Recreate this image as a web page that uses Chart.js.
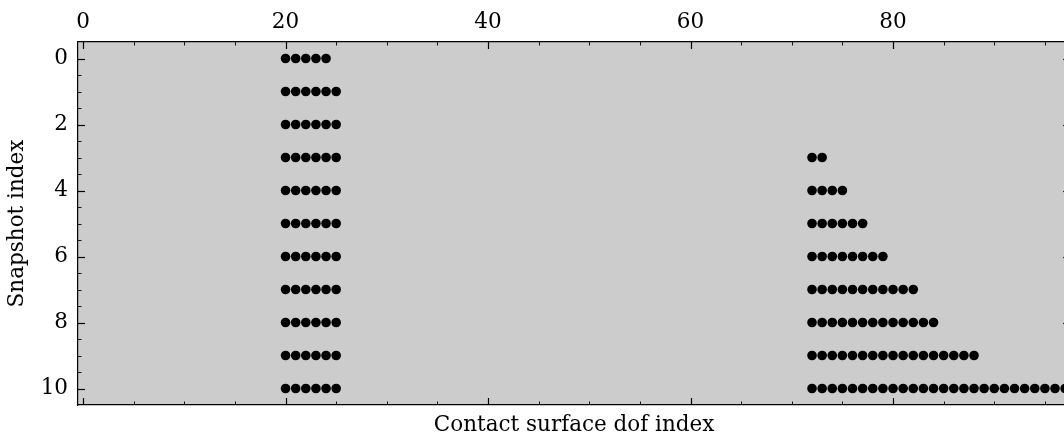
<!DOCTYPE html>
<html>
<head>
<meta charset="utf-8">
<script src="https://cdn.jsdelivr.net/npm/chart.js@4.4.1/dist/chart.umd.min.js"></script>
<style>
  html, body { margin: 0; padding: 0; background: #fff; overflow: hidden; }
  #wrap { width: 1075px; height: 439px; }
</style>
</head>
<body>
<div id="wrap"><canvas id="spyChart"></canvas></div>
<script>
// Active contact dofs for each snapshot, as [first, last] index runs
const snapshots = [0, 1, 2, 3, 4, 5, 6, 7, 8, 9, 10];
const activeRuns = [
  [[20, 24]],
  [[20, 25]],
  [[20, 25]],
  [[20, 25], [72, 73]],
  [[20, 25], [72, 75]],
  [[20, 25], [72, 77]],
  [[20, 25], [72, 79]],
  [[20, 25], [72, 82]],
  [[20, 25], [72, 84]],
  [[20, 25], [72, 88]],
  [[20, 25], [72, 97]]
];
const nDofs = 98;
const dofTicks = [0, 20, 40, 60, 80];
const snapshotTicks = [0, 2, 4, 6, 8, 10];

const FONT = "'DejaVu Serif', 'Liberation Serif', serif";
const FONT_SIZE = 21.5;

const points = [];
snapshots.forEach((s, i) => {
  activeRuns[i].forEach(([a, b]) => {
    for (let d = a; d <= b; d++) points.push({ x: d, y: s });
  });
});

// grey axes face + inward major/minor ticks on every side
const frame = {
  id: 'frame',
  beforeDraw(chart) {
    const { ctx, chartArea: a } = chart;
    ctx.save();
    ctx.fillStyle = '#cccccc';
    ctx.fillRect(a.left, a.top, a.right - a.left, a.bottom - a.top);
    ctx.restore();
  },
  afterDraw(chart) {
    const { ctx, chartArea: a, scales } = chart;
    ctx.save();
    ctx.strokeStyle = '#000';
    const mark = (x1, y1, x2, y2, w) => {
      ctx.lineWidth = w;
      ctx.beginPath();
      ctx.moveTo(x1, y1);
      ctx.lineTo(x2, y2);
      ctx.stroke();
    };
    for (let v = 0; v < nDofs; v += 5) {
      const major = v % 20 === 0;
      const len = major ? 7 : 3.5;
      const x = Math.round(scales.x.getPixelForValue(v)) + 0.5;
      mark(x, a.top, x, a.top + len, major ? 1.2 : 0.9);
      mark(x, a.bottom, x, a.bottom - len, major ? 1.2 : 0.9);
    }
    for (let v = 0; v <= 10; v += 0.5) {
      const major = v % 2 === 0;
      const len = major ? 7 : 3.5;
      const y = Math.round(scales.y.getPixelForValue(v)) + 0.5;
      mark(a.left, y, a.left + len, y, major ? 1.2 : 0.9);
      mark(a.right, y, a.right - len, y, major ? 1.2 : 0.9);
    }
    ctx.restore();
  }
};

new Chart(document.getElementById('spyChart'), {
  type: 'scatter',
  data: {
    datasets: [{
      label: 'active',
      data: points,
      pointRadius: 4.8,
      pointHoverRadius: 4.8,
      pointBorderWidth: 0,
      backgroundColor: '#000',
      borderColor: '#000'
    }]
  },
  options: {
    responsive: true,
    maintainAspectRatio: false,
    animation: false,
    layout: { padding: { right: 4.5 } },
    plugins: { legend: { display: false }, tooltip: { enabled: false } },
    scales: {
      x: {
        type: 'linear',
        position: 'top',
        min: -0.5,
        max: nDofs - 0.5,
        afterBuildTicks: s => { s.ticks = dofTicks.map(v => ({ value: v })); },
        afterFit: s => { s.height = 42; },
        grid: { display: false, drawTicks: false },
        border: { display: true, color: '#000', width: 1.2 },
        ticks: { color: '#000', padding: 7, maxRotation: 0, font: { family: FONT, size: FONT_SIZE } }
      },
      x2: {
        type: 'linear',
        position: 'bottom',
        min: -0.5,
        max: nDofs - 0.5,
        afterFit: s => { s.height = 34; },
        grid: { display: false, drawTicks: false },
        border: { display: true, color: '#000', width: 1.2 },
        ticks: { display: false },
        title: {
          display: true,
          text: 'Contact surface dof index',
          color: '#000',
          padding: { top: 0, bottom: 1 },
          font: { family: FONT, size: FONT_SIZE }
        }
      },
      y: {
        type: 'linear',
        reverse: true,
        min: -0.5,
        max: 10.5,
        afterBuildTicks: s => { s.ticks = snapshotTicks.map(v => ({ value: v })); },
        afterFit: s => { s.width = 78; },
        grid: { display: false, drawTicks: false },
        border: { display: true, color: '#000', width: 1.2 },
        ticks: { color: '#000', padding: 10, font: { family: FONT, size: FONT_SIZE } },
        title: {
          display: true,
          text: 'Snapshot index',
          color: '#000',
          padding: { top: 5, bottom: 0 },
          font: { family: FONT, size: FONT_SIZE }
        }
      }
    }
  },
  plugins: [frame]
});
</script>
</body>
</html>
